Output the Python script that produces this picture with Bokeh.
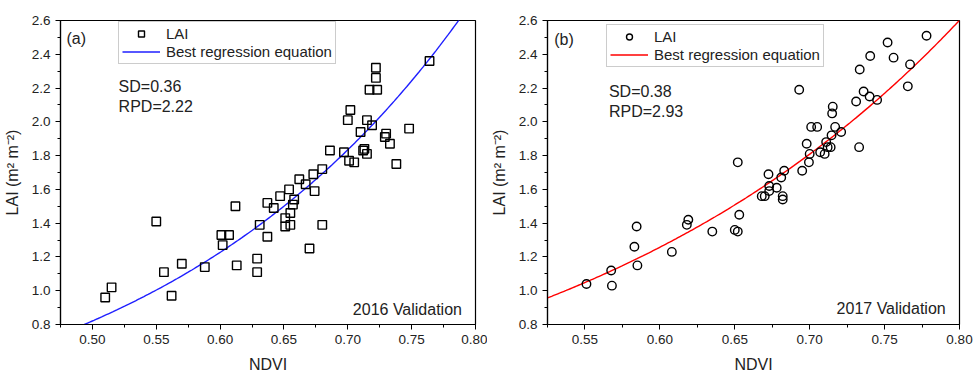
import numpy as np
from bokeh.plotting import figure
from bokeh.layouts import row
from bokeh.models import (Range1d, FixedTicker, PrintfTickFormatter, Label,
                          Legend, LegendItem, ColumnDataSource)
from bokeh.embed import file_html
from bokeh.resources import INLINE

# ---- Data: panel (a) 2016 validation ----
ndvi_2016 = [0.510, 0.515, 0.550, 0.556, 0.562, 0.570, 0.588, 0.601, 0.602, 0.607,
             0.612, 0.613, 0.629, 0.629, 0.631, 0.637, 0.637, 0.642, 0.647, 0.651,
             0.651, 0.654, 0.655, 0.655, 0.658, 0.657, 0.662, 0.667, 0.670, 0.673,
             0.674, 0.680, 0.680, 0.686, 0.697, 0.700, 0.702, 0.701, 0.705, 0.710,
             0.712, 0.713, 0.715, 0.715, 0.717, 0.719, 0.722, 0.722, 0.723, 0.729,
             0.730, 0.733, 0.738, 0.748, 0.764]
lai_2016 = [0.96, 1.02, 1.41, 1.11, 0.97, 1.16, 1.14, 1.33, 1.27, 1.33,
            1.50, 1.15, 1.19, 1.11, 1.39, 1.52, 1.32, 1.49, 1.56, 1.43,
            1.38, 1.60, 1.46, 1.39, 1.54, 1.51, 1.66, 1.63, 1.25, 1.69,
            1.59, 1.72, 1.39, 1.83, 1.82, 2.01, 2.07, 1.77, 1.76, 1.94,
            1.83, 1.84, 2.01, 1.81, 2.19, 1.98, 2.26, 2.32, 2.19, 1.91,
            1.93, 1.87, 1.75, 1.96, 2.36]
fit_2016 = dict(a=0.110, b=4.02)   # LAI = a * exp(b * NDVI)

# ---- Data: panel (b) 2017 validation ----
ndvi_2017 = [0.551, 0.5675, 0.568, 0.583, 0.5845, 0.585, 0.608, 0.618, 0.619, 0.635,
             0.650, 0.652, 0.652, 0.653, 0.668, 0.670, 0.6725, 0.673, 0.673, 0.678,
             0.681, 0.682, 0.682, 0.683, 0.693, 0.695, 0.698, 0.6995, 0.700, 0.701,
             0.705, 0.707, 0.710, 0.711, 0.712, 0.714, 0.7146, 0.715, 0.7154, 0.717,
             0.721, 0.731, 0.733, 0.7334, 0.736, 0.740, 0.7404, 0.745, 0.752, 0.756,
             0.7655, 0.767, 0.778]
lai_2017 = [1.04, 1.12, 1.03, 1.26, 1.38, 1.15, 1.23, 1.39, 1.42, 1.35,
            1.36, 1.35, 1.76, 1.45, 1.56, 1.56, 1.69, 1.62, 1.59, 1.61,
            1.67, 1.56, 1.54, 1.71, 2.19, 1.71, 1.87, 1.76, 1.81, 1.97,
            1.97, 1.82, 1.81, 1.88, 1.85, 1.85, 1.92, 2.05, 2.09, 1.97,
            1.94, 2.12, 1.85, 2.31, 2.18, 2.15, 2.39, 2.13, 2.47, 2.38,
            2.21, 2.34, 2.51]
fit_2017 = dict(a=0.142, b=3.635)

FONT = "Liberation Sans"
y_major = [0.8, 1.0, 1.2, 1.4, 1.6, 1.8, 2.0, 2.2, 2.4, 2.6]
y_minor = [0.9, 1.1, 1.3, 1.5, 1.7, 1.9, 2.1, 2.3, 2.5]
x_major = [0.50, 0.55, 0.60, 0.65, 0.70, 0.75, 0.80]
x_minor = [0.475, 0.525, 0.575, 0.625, 0.675, 0.725, 0.775]


def make_panel(xs, ys, fit, x_start, marker, line_color, tag, sd, rpd, year,
               border_left, border_right, width, legend_loc, tag_xy, sd_xy, yr_xy):
    p = figure(width=width, height=375, output_backend="svg", toolbar_location=None,
               x_range=Range1d(x_start, 0.80), y_range=Range1d(0.8, 2.6),
               min_border_left=border_left, min_border_right=border_right,
               min_border_top=20, min_border_bottom=48)
    p.xgrid.visible = False
    p.ygrid.visible = False
    p.outline_line_color = "black"
    p.outline_line_width = 1.2
    p.background_fill_color = "white"
    p.border_fill_color = "white"

    for ax in (p.xaxis[0], p.yaxis[0]):
        ax.axis_line_color = "black"
        ax.axis_line_width = 1.2
        ax.major_tick_line_color = "black"
        ax.minor_tick_line_color = "black"
        ax.major_tick_out = 5
        ax.major_tick_in = 0
        ax.minor_tick_out = 3
        ax.minor_tick_in = 0
        ax.major_label_text_font = FONT
        ax.major_label_text_font_size = "13.5px"
        ax.major_label_text_color = "#222222"
        ax.axis_label_text_font = FONT
        ax.axis_label_text_font_size = "16px"
        ax.axis_label_text_font_style = "normal"
        ax.axis_label_text_color = "#222222"

    p.xaxis.ticker = FixedTicker(ticks=x_major, minor_ticks=x_minor)
    p.yaxis.ticker = FixedTicker(ticks=y_major, minor_ticks=y_minor)
    p.xaxis.formatter = PrintfTickFormatter(format="%.2f")
    p.yaxis.formatter = PrintfTickFormatter(format="%.1f")
    p.xaxis.axis_label = "NDVI"
    p.yaxis.axis_label = "LAI (m\u00b2 m\u207b\u00b2)"
    p.xaxis.axis_label_standoff = 9
    p.yaxis.axis_label_standoff = 8

    src = ColumnDataSource(dict(x=xs, y=ys))
    xx = np.linspace(x_start, 0.80, 200)
    yy = fit["a"] * np.exp(fit["b"] * xx)
    r_line = p.line(xx, yy, line_color=line_color, line_width=1.4)
    r_pts = p.scatter("x", "y", source=src, marker=marker, size=8.5,
                      fill_color=None, line_color="black", line_width=1.4)

    legend = Legend(items=[LegendItem(label="LAI", renderers=[r_pts]),
                           LegendItem(label="Best regression equation", renderers=[r_line])],
                    location=legend_loc)
    legend.label_text_font = FONT
    legend.label_text_font_size = "15px"
    legend.label_text_color = "#222222"
    legend.border_line_color = "#999999"
    legend.border_line_width = 1
    legend.background_fill_color = "white"
    legend.background_fill_alpha = 1
    legend.padding = 3
    legend.spacing = 1
    legend.margin = 0
    legend.glyph_width = 38
    legend.glyph_height = 15
    legend.label_height = 15
    legend.label_standoff = 6
    p.add_layout(legend, "center")

    common = dict(text_font=FONT, text_font_size="16px", text_color="#222222",
                  text_baseline="middle")
    p.add_layout(Label(x=tag_xy[0], y=tag_xy[1], text=tag, **common))
    p.add_layout(Label(x=sd_xy[0], y=sd_xy[1], text=sd, **common))
    p.add_layout(Label(x=sd_xy[0], y=sd_xy[2], text=rpd, **common))
    p.add_layout(Label(x=yr_xy[0], y=yr_xy[1], text=year, text_align="right", **common))
    return p


p1 = make_panel(ndvi_2016, lai_2016, fit_2016, 0.475, "square", "#1f1fff",
                "(a)", "SD=0.36", "RPD=2.22", "2016 Validation",
                60, 12, 487, (58, 260),
                (0.4797, 2.496), (0.5205, 2.207, 2.090), (0.7894, 0.890))
p2 = make_panel(ndvi_2017, lai_2017, fit_2017, 0.525, "circle", "#ff0000",
                "(b)", "SD=0.38", "RPD=2.93", "2017 Validation",
                58, 15, 487, (59, 257),
                (0.5295, 2.49), (0.566, 2.18, 2.059), (0.7908, 0.894))

layout = row(p1, p2)
open("out.html", "w").write(file_html(layout, INLINE))
